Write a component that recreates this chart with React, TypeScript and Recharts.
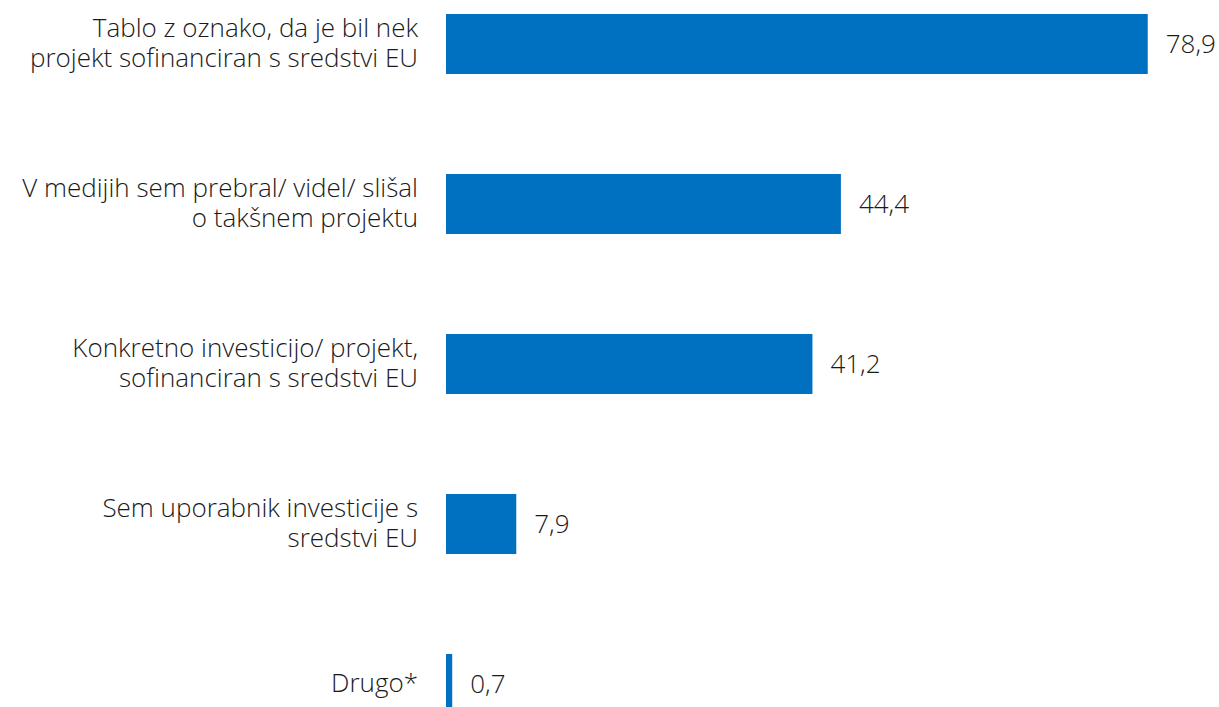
import React from 'react';
import { BarChart, Bar, XAxis, YAxis, LabelList } from 'recharts';

const categories: string[][] = [
  ['Tablo z oznako, da je bil nek', 'projekt sofinanciran s sredstvi EU'],
  ['V medijih sem prebral/ videl/ slišal', 'o takšnem projektu'],
  ['Konkretno investicijo/ projekt,', 'sofinanciran s sredstvi EU'],
  ['Sem uporabnik investicije s', 'sredstvi EU'],
  ['Drugo*'],
];
const values: number[] = [78.9, 44.4, 41.2, 7.9, 0.7];
const valueLabels: string[] = ['78,9', '44,4', '41,2', '7,9', '0,7'];

const data = categories.map((c, i) => ({
  name: c.join('\n'),
  value: values[i],
  label: valueLabels[i],
}));

const FONT = '"Open Sans", sans-serif';
const TEXT = '#1a1a1a';
const BAR = '#0070C0';
const FS = 26;

const Tick = (props: any) => {
  const { x, y, payload } = props;
  const lines: string[] = String(payload.value).split('\n');
  const lh = 30;
  const start = -((lines.length - 1) * lh) / 2;
  return (
    <text
      x={x}
      y={y}
      textAnchor="end"
      fill={TEXT}
      fontFamily={FONT}
      fontWeight={300}
      fontSize={FS}
    >
      {lines.map((l, i) => (
        <tspan key={i} x={x} dy={i === 0 ? start + 8 : lh}>
          {l}
        </tspan>
      ))}
    </text>
  );
};

export default function App() {
  return (
    <div
      style={{
        position: 'absolute',
        left: 0,
        top: 0,
        width: 1219,
        height: 707,
        overflow: 'hidden',
        background: '#fff',
      }}
    >
      <div style={{ marginTop: -36 }}>
        <BarChart
          width={1219}
          height={800}
          data={data}
          layout="vertical"
          margin={{ top: 0, right: 17, bottom: 0, left: 0 }}
          barCategoryGap={0}
        >
          <XAxis type="number" domain={[0, 85]} hide />
          <YAxis
            type="category"
            dataKey="name"
            width={446}
            axisLine={false}
            tickLine={false}
            tickSize={8}
            tickMargin={20}
            tick={<Tick />}
            interval={0}
          />
          <Bar dataKey="value" fill={BAR} barSize={60} isAnimationActive={false}>
            <LabelList
              dataKey="label"
              position="right"
              offset={18}
              fill={TEXT}
              fontFamily={FONT}
              fontWeight={300}
              fontSize={FS}
            />
          </Bar>
        </BarChart>
      </div>
    </div>
  );
}
